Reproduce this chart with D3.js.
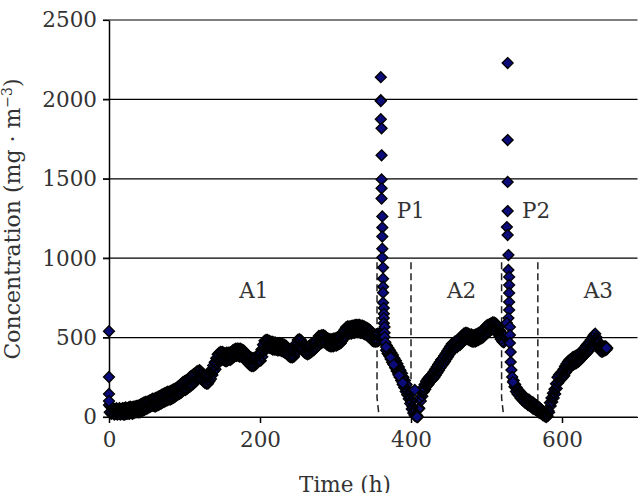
<!DOCTYPE html>
<html><head><meta charset="utf-8">
<script src="https://cdn.jsdelivr.net/npm/d3@7"></script>
<style>body{margin:0;background:#fff}svg{display:block}</style>
</head><body><svg id="chart" width="641" height="493"></svg>
<script>
// ---- data (time in hours, concentration in mg·m^-3), readings of the scattered band ----
const stepHours = 1;
const onsetTimes = [0, 0, 0, 0];
const onsetValues = [540, 252, 145, 100];

const a1Start = 0;
const a1Values = [
  75, 30, 65, 20, 60, 25, 55, 15, 50, 20, 55, 15, 50, 20, 55, 15, 50, 20, 55, 15,
  55, 15, 60, 20, 55, 20, 60, 20, 65, 25, 60, 20, 65, 25, 65, 30, 70, 30, 70, 30,
  75, 30, 80, 35, 85, 40, 90, 45, 95, 50, 95, 55, 100, 60, 105, 65, 110, 70, 115, 70,
  115, 65, 120, 70, 125, 75, 130, 80, 135, 85, 140, 90, 145, 95, 150, 100, 155, 105, 160, 110,
  160, 110, 165, 115, 170, 120, 175, 125, 180, 135, 185, 140, 195, 145, 200, 150, 210, 160, 220, 170,
  225, 170, 230, 175, 235, 185, 245, 190, 255, 200, 260, 205, 270, 215, 275, 225, 285, 235, 290, 245,
  295, 245, 285, 235, 275, 225, 265, 215, 260, 210, 255, 210, 265, 225, 280, 240, 300, 265, 325, 290,
  345, 300, 370, 330, 395, 355, 405, 360, 410, 365, 410, 360, 405, 355, 400, 350, 405, 355, 405, 360,
  405, 360, 410, 370, 420, 375, 425, 385, 430, 385, 430, 385, 430, 380, 430, 380, 425, 375, 420, 365,
  410, 360, 400, 345, 390, 335, 380, 325, 375, 320, 370, 320, 370, 325, 375, 335, 385, 345, 395, 355,
  400, 355, 425, 380, 455, 410, 480, 430, 485, 440, 485, 440, 480, 435, 475, 430, 475, 425, 470, 425,
  470, 425, 465, 420, 465, 420, 465, 420, 460, 415, 460, 410, 455, 405, 450, 400, 440, 390, 430, 380,
  425, 375, 420, 375, 425, 380, 440, 400, 465, 425, 485, 440, 490, 445, 485, 440, 470, 420, 455, 405,
  445, 400, 440, 395, 445, 400, 450, 405, 460, 415, 465, 420, 470, 430, 480, 440, 495, 450, 510, 465,
  510, 465, 515, 470, 515, 470, 510, 465, 500, 455, 495, 450, 490, 445, 490, 445, 490, 445, 495, 450,
  495, 450, 500, 455, 505, 460, 510, 465, 520, 480, 535, 495, 550, 510, 565, 520, 570, 525, 570, 525,
  570, 525, 575, 530, 575, 530, 580, 535, 580, 535, 580, 535, 580, 530, 575, 530, 575, 525, 570, 520,
  565, 515, 560, 510, 555, 500, 545, 495, 530, 480, 525, 475, 520, 475, 520, 475, 525, 480, 525
];

const p1Times = [360, 360, 360, 360, 361, 361, 361, 361, 361, 362, 362, 362, 362, 362,
  363, 363, 363, 363, 363, 364, 364, 364, 364, 365, 365, 365, 366];
const p1Values = [2140, 1995, 1990, 1875, 1818, 1648, 1496, 1440, 1376, 1263, 1193, 1136, 1060, 1004,
  941, 871, 820, 783, 720, 686, 650, 623, 590, 567, 530, 504, 470];

const p1DropStart = 366;
const p1DropValues = [
  460, 420, 450, 400, 435, 385, 420, 365, 405, 345,
  390, 330, 370, 310, 355, 290, 335, 270, 315, 250,
  295, 230, 275, 205, 250, 185, 230, 160, 205, 140,
  165, 115, 135, 85, 100, 50, 65, 25, 35, 10, 5
];
const p1DropMarked = [441, 375, 330, 262, 215]; // individually visible readings on the drop
const p1DropMarkedTimes = [367, 373, 377, 384, 389];

const a2Start = 408;
const a2Values = [
  10, 0, 50, 55, 120, 100, 160, 130, 185, 160, 205, 175, 225, 195, 240, 205, 250, 220, 260, 230,
  270, 240, 285, 250, 300, 265, 315, 280, 330, 295, 345, 310, 360, 325, 370, 335, 385, 350, 400, 365,
  415, 380, 430, 395, 445, 410, 460, 420, 465, 430, 475, 435, 480, 440, 485, 450, 495, 455, 505, 465,
  515, 475, 525, 485, 530, 490, 530, 490, 525, 485, 520, 480, 520, 475, 515, 475, 515, 475, 520, 480,
  525, 485, 530, 490, 535, 495, 540, 500, 550, 510, 565, 520, 575, 530, 580, 535, 585, 545, 590, 550,
  595, 550, 595, 550, 590, 545, 580, 530, 565, 510, 545, 490, 525, 475, 515, 470, 510
];

const p2Times = [528, 528, 528, 528, 527, 528, 529, 529, 530, 530, 530, 530, 530, 529, 527,
  531, 531, 531, 532, 532, 533, 534, 535];
const p2Values = [2229, 1744, 1480, 1297, 1196, 1146, 1020, 926, 882, 831, 781, 724, 674, 623, 592,
  567, 516, 466, 409, 346, 296, 252, 220];

const a3Start = 536;
const a3Values = [
  230, 190, 205, 160, 185, 145, 170, 135, 160, 120, 150, 110, 140, 100, 130, 90, 120, 85, 110, 75,
  110, 70, 100, 65, 95, 55, 90, 50, 80, 45, 75, 40, 65, 30, 60, 25, 50, 20, 40, 10,
  30, 5, 20, 0, 10, 5, 40, 30, 90, 70, 120, 95, 150, 120, 175, 145, 210, 180, 250, 215,
  265, 230, 275, 240, 285, 250, 300, 260, 320, 280, 335, 295, 350, 305, 360, 315, 365, 325, 375, 330,
  380, 335, 385, 340, 390, 345, 395, 355, 405, 365, 415, 375, 425, 385, 435, 395, 450, 405, 460, 415,
  470, 425, 485, 440, 500, 455, 515, 475, 525, 490, 500, 465, 475, 440, 450, 415, 440, 410, 440, 415,
  445, 420, 445, 425, 434
];

const strayTimes = [405, 408, 659];
const strayValues = [170, 0, 434];

const boundaryTimes = [355, 400, 520, 568];
const boundaryTop = 975;

const phaseLabels = ["A1", "A2", "A3"];
const phaseLabelTimes = [192, 467, 648];
const phaseLabelValue = 800;
const peakLabels = ["P1", "P2"];
const peakLabelTimes = [381, 547];
const peakLabelValue = 1300;

const yTicks = [0, 500, 1000, 1500, 2000, 2500];
const xTicks = [0, 200, 400, 600];

// ---- build point lists ----
const bandPoints = [];
a1Values.forEach((v, i) => bandPoints.push([a1Start + i * stepHours, v]));
p1DropValues.forEach((v, i) => bandPoints.push([p1DropStart + i * stepHours, v]));
a2Values.forEach((v, i) => bandPoints.push([a2Start + i * stepHours, v]));
a3Values.forEach((v, i) => bandPoints.push([a3Start + i * stepHours, v]));

const loosePoints = [];
onsetTimes.forEach((t, i) => loosePoints.push([t, onsetValues[i]]));
p1Times.forEach((t, i) => loosePoints.push([t, p1Values[i]]));
p1DropMarkedTimes.forEach((t, i) => loosePoints.push([t, p1DropMarked[i]]));
p2Times.forEach((t, i) => loosePoints.push([t, p2Values[i]]));
strayTimes.forEach((t, i) => loosePoints.push([t, strayValues[i]]));

// ---- chart ----
const svg = d3.select("#chart");
const font = "'DejaVu Serif', serif";
const textColor = "#333";
const x = d3.scaleLinear().domain([0, 700]).range([109, 637.5]);
const y = d3.scaleLinear().domain([0, 2500]).range([417, 20]);

// gridlines
svg.append("g").selectAll("line").data(yTicks).join("line")
  .attr("x1", x(0) - 6).attr("x2", x(700))
  .attr("y1", d => y(d)).attr("y2", d => y(d))
  .attr("stroke", "#000").attr("stroke-width", 1.2);

// y axis
const yAxis = svg.append("g").attr("transform", `translate(${x(0)},0)`)
  .call(d3.axisLeft(y).tickValues(yTicks).tickFormat(d3.format("d"))
    .tickSizeInner(6).tickSizeOuter(0).tickPadding(6));
yAxis.select(".domain").attr("stroke", "#000").attr("stroke-width", 1.5);
yAxis.selectAll(".tick line").attr("stroke", "#000").attr("stroke-width", 1.2);
yAxis.selectAll("text").attr("font-family", font).attr("font-size", 21.5).attr("fill", textColor);

// x axis
const xAxis = svg.append("g").attr("transform", `translate(0,${y(0)})`)
  .call(d3.axisBottom(x).tickValues(xTicks).tickFormat(d3.format("d"))
    .tickSizeInner(6).tickSizeOuter(0).tickPadding(9));
xAxis.select(".domain").attr("stroke", "#000").attr("stroke-width", 1.2);
xAxis.selectAll(".tick line").attr("stroke", "#000").attr("stroke-width", 1.5);
xAxis.selectAll("text").attr("font-family", font).attr("font-size", 21.5).attr("fill", textColor);

// phase boundaries (dashed)
const line = d3.line().x(d => x(d[0])).y(d => y(d[1]));
svg.append("g").selectAll("path").data(boundaryTimes).join("path")
  .attr("d", (t, i) => i % 2 === 0
    ? line([[t, boundaryTop], [t, 120], [t + 2.5, 15]])
    : line([[t, boundaryTop], [t, 10]]))
  .attr("fill", "none").attr("stroke", "#222").attr("stroke-width", 1.5)
  .attr("stroke-dasharray", "7,4");

// markers
const diamond = {
  draw(ctx, size) {
    const r = Math.sqrt(size / 2);
    ctx.moveTo(0, -r); ctx.lineTo(r, 0); ctx.lineTo(0, r); ctx.lineTo(-r, 0); ctx.closePath();
  }
};
const sym = d3.symbol().type(diamond).size(60);
const fillColor = "#0b0b7a";
const pos = d => `translate(${x(d[0])},${y(d[1])})`;
// dense band: fills first, then outlines on top (overlapping outlines read as black)
svg.append("g").selectAll("path").data(bandPoints).join("path")
  .attr("transform", pos).attr("d", sym).attr("fill", fillColor);
svg.append("g").selectAll("path").data(bandPoints).join("path")
  .attr("transform", pos).attr("d", sym).attr("fill", "none")
  .attr("stroke", "#000").attr("stroke-width", 1.3);
// isolated readings
svg.append("g").selectAll("path").data(loosePoints).join("path")
  .attr("transform", pos).attr("d", sym)
  .attr("fill", fillColor).attr("stroke", "#000").attr("stroke-width", 1.3);

// labels
svg.append("g").selectAll("text").data(phaseLabels).join("text")
  .attr("x", (d, i) => x(phaseLabelTimes[i])).attr("y", y(phaseLabelValue))
  .attr("dy", "0.36em").attr("text-anchor", "middle")
  .attr("font-family", font).attr("font-size", 21.5).attr("fill", textColor).text(d => d);
svg.append("g").selectAll("text").data(peakLabels).join("text")
  .attr("x", (d, i) => x(peakLabelTimes[i])).attr("y", y(peakLabelValue))
  .attr("dy", "0.36em").attr("text-anchor", "start")
  .attr("font-family", font).attr("font-size", 21.5).attr("fill", textColor).text(d => d);

// axis titles
const yt = svg.append("text").attr("transform", "translate(20,219) rotate(-90)")
  .attr("text-anchor", "middle").attr("font-family", font).attr("font-size", 22).attr("fill", textColor);
yt.append("tspan").text("Concentration (mg · m");
yt.append("tspan").attr("dy", -8).attr("font-size", 14).text("−3");
yt.append("tspan").attr("dy", 8).text(")");

svg.append("text").attr("x", 345).attr("y", 492).attr("text-anchor", "middle")
  .attr("font-family", font).attr("font-size", 21.5).attr("fill", textColor).text("Time (h)");
</script></body></html>
